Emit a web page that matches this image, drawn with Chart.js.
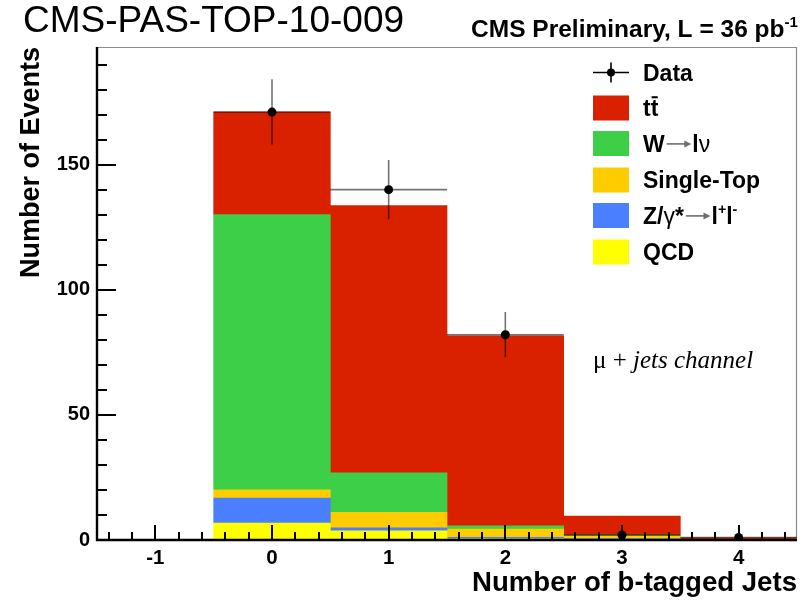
<!DOCTYPE html>
<html>
<head>
<meta charset="utf-8">
<style>
  html, body { margin: 0; padding: 0; background: #ffffff; }
  #wrap { width: 810px; height: 600px; }
</style>
<script src="https://cdn.jsdelivr.net/npm/chart.js@4.4.1/dist/chart.umd.min.js"></script>
</head>
<body>
<div id="wrap"><canvas id="c" width="810" height="600"></canvas></div>
<script>
// Bin centres: number of b-tagged jets
const bins = [-1, 0, 1, 2, 3, 4];

// Stacked expectations per bin (events)
const qcd       = [0, 6.8, 3.7, 0.5, 0.3, 0.05];
const zjets     = [0, 10.0, 1.2, 0.6, 0.3, 0.05];
const singleTop = [0, 3.2, 6.2, 3.3, 1.0, 0.1];
const wjets     = [0, 110.0, 15.7, 1.3, 0.4, 0.05];
const ttbar     = [0, 41.0, 106.8, 75.9, 7.6, 0.6];

// Observed data with statistical errors
const dataBins   = [0, 1, 2, 3, 4];
const dataCounts = [171, 140, 82, 2, 1];
const dataErrors = [13.1, 11.8, 9.1, 1.4, 1.0];

// Axis tick labels
const xTicks = [-1, 0, 1, 2, 3, 4];
const yTicks = [0, 50, 100, 150];

const SANS = '"Liberation Sans", Arial, Helvetica, sans-serif';
const SERIF = '"Liberation Serif", "Times New Roman", serif';

const COLORS = {
  tt: '#d92100',
  w: '#3ccf47',
  st: '#ffcc00',
  z: '#4a80ff',
  qcd: '#ffff00'
};

const toXY = arr => bins.map((b, i) => ({ x: b, y: arr[i] }));

function barSet(label, arr, color) {
  return {
    type: 'bar',
    label: label,
    data: toXY(arr),
    backgroundColor: color,
    borderWidth: 0,
    barPercentage: 1.0,
    categoryPercentage: 1.0,
    stack: 'mc',
    order: 0
  };
}

// Width of one text piece (arrows are drawn as strokes of fixed length)
function pieceWidth(ctx, p, size, weight, family) {
  if (p.arrow) return size * 1.2;
  const s = p.sup ? size * 0.62 : size;
  ctx.font = `${p.light ? 'normal' : weight} ${s}px ${family}`;
  return ctx.measureText(p.t).width;
}

// Draw a run of text pieces; pieces may be superscripts, arrows or carry an overbar
function drawRich(ctx, pieces, x, y, size, weight, family) {
  let cx = x;
  for (const p of pieces) {
    const w = pieceWidth(ctx, p, size, weight, family);
    if (p.arrow) {
      const ay = y - size * 0.33;
      ctx.save();
      ctx.strokeStyle = '#6e6e6e';
      ctx.fillStyle = '#6e6e6e';
      ctx.lineWidth = 1.6;
      ctx.beginPath();
      ctx.moveTo(cx + 2, ay);
      ctx.lineTo(cx + w - 6, ay);
      ctx.stroke();
      ctx.beginPath();
      ctx.moveTo(cx + w - 1, ay);
      ctx.lineTo(cx + w - 8, ay - 3.5);
      ctx.lineTo(cx + w - 8, ay + 3.5);
      ctx.closePath();
      ctx.fill();
      ctx.restore();
    } else {
      const dy = p.sup ? -size * 0.42 : 0;
      ctx.fillText(p.t, cx, y + dy);
      if (p.bar) {
        ctx.fillRect(cx + w * 0.12, y - size * 0.86, w * 0.8, size * 0.09);
      }
    }
    cx += w;
  }
  return cx - x;
}

function richWidth(ctx, pieces, size, weight, family) {
  return pieces.reduce((s, p) => s + pieceWidth(ctx, p, size, weight, family), 0);
}

// Inward-pointing ticks, frame, and data error bars (drawn above the stack, below the markers)
const framePlugin = {
  id: 'frame',
  beforeDatasetDraw(chart, args) {
    if (chart.data.datasets[args.index].type !== 'scatter') return;
    const { ctx, chartArea: a, scales: { x, y } } = chart;
    ctx.save();

    // thin top/right frame
    ctx.strokeStyle = '#8c8c8c';
    ctx.lineWidth = 1.2;
    ctx.beginPath();
    ctx.moveTo(a.left, a.top + 0.5);
    ctx.lineTo(a.right - 0.5, a.top + 0.5);
    ctx.lineTo(a.right - 0.5, a.bottom);
    ctx.stroke();

    // x ticks: major every 1, minor every 0.2
    ctx.strokeStyle = '#000';
    ctx.lineWidth = 2;
    ctx.beginPath();
    for (let k = -7; k <= 22; k++) {
      const px = Math.round(x.getPixelForValue(k / 5));
      const len = (k % 5 === 0) ? 15 : 8;
      ctx.moveTo(px, a.bottom);
      ctx.lineTo(px, a.bottom - len);
    }
    // y ticks: major every 50, minor every 10
    for (let k = 1; k <= 19; k++) {
      const py = Math.round(y.getPixelForValue(k * 10));
      const len = (k % 5 === 0) ? 19 : 10;
      ctx.moveTo(a.left, py);
      ctx.lineTo(a.left + len, py);
    }
    ctx.stroke();

    // axis lines
    ctx.lineWidth = 2.4;
    ctx.beginPath();
    ctx.moveTo(a.left, a.top);
    ctx.lineTo(a.left, a.bottom);
    ctx.lineTo(a.right, a.bottom);
    ctx.stroke();

    // error bars
    ctx.strokeStyle = 'rgba(0,0,0,0.55)';
    ctx.lineWidth = 1.6;
    ctx.beginPath();
    dataBins.forEach((b, i) => {
      const px = x.getPixelForValue(b);
      const py = y.getPixelForValue(dataCounts[i]);
      ctx.moveTo(px, y.getPixelForValue(dataCounts[i] + dataErrors[i]));
      ctx.lineTo(px, y.getPixelForValue(Math.max(0, dataCounts[i] - dataErrors[i])));
      ctx.moveTo(x.getPixelForValue(b - 0.5), py);
      ctx.lineTo(x.getPixelForValue(b + 0.5), py);
    });
    ctx.stroke();
    ctx.restore();
  }
};

// Header texts, legend and channel label
const annotPlugin = {
  id: 'annot',
  afterDraw(chart) {
    const { ctx } = chart;
    ctx.save();
    ctx.fillStyle = '#000';
    ctx.textBaseline = 'alphabetic';
    ctx.textAlign = 'left';

    // document reference
    ctx.font = `37px ${SANS}`;
    ctx.fillText('CMS-PAS-TOP-10-009', 23, 32);

    // luminosity header, right aligned to the frame
    const head = [{ t: 'CMS Preliminary, L = 36 pb' }, { t: '-1', sup: true }];
    const hw = richWidth(ctx, head, 24.5, 'bold', SANS);
    drawRich(ctx, head, 798 - hw, 37, 24.5, 'bold', SANS);

    // legend
    const boxX = 593, boxW = 36, boxH = 25, textX = 643;
    const entries = [
      { cy: 72.5, marker: true, pieces: [{ t: 'Data' }] },
      { cy: 108, color: COLORS.tt, pieces: [{ t: 't' }, { t: 't', bar: true }] },
      { cy: 143.5, color: COLORS.w, pieces: [{ t: 'W' }, { arrow: true }, { t: 'l' }, { t: '\u03bd', light: true }] },
      { cy: 180, color: COLORS.st, pieces: [{ t: 'Single-Top' }] },
      { cy: 215.5, color: COLORS.z, pieces: [{ t: 'Z/' }, { t: '\u03b3', light: true }, { t: '*' }, { arrow: true }, { t: 'l' }, { t: '+', sup: true }, { t: 'l' }, { t: '-', sup: true }] },
      { cy: 252, color: COLORS.qcd, pieces: [{ t: 'QCD' }] }
    ];
    for (const e of entries) {
      if (e.marker) {
        ctx.strokeStyle = '#000';
        ctx.lineWidth = 1.6;
        ctx.beginPath();
        ctx.moveTo(boxX, e.cy); ctx.lineTo(boxX + boxW, e.cy);
        ctx.moveTo(boxX + boxW / 2, e.cy - 10); ctx.lineTo(boxX + boxW / 2, e.cy + 10);
        ctx.stroke();
        ctx.beginPath();
        ctx.arc(boxX + boxW / 2, e.cy, 4, 0, Math.PI * 2);
        ctx.fill();
      } else {
        ctx.fillStyle = e.color;
        ctx.fillRect(boxX, e.cy - boxH / 2, boxW, boxH);
        ctx.fillStyle = '#000';
      }
      drawRich(ctx, e.pieces, textX, e.cy + 8, 23, 'bold', SANS);
    }

    // channel label
    ctx.font = `25px ${SERIF}`;
    ctx.fillText('\u03bc + ', 593, 368);
    const mw = ctx.measureText('\u03bc + ').width;
    ctx.font = `italic 25px ${SERIF}`;
    ctx.fillText('jets channel', 593 + mw, 368);

    ctx.restore();
  }
};

const cfg = {
  data: {
    datasets: [
      barSet('QCD', qcd, COLORS.qcd),
      barSet('Z/\u03b3*\u2192l+l-', zjets, COLORS.z),
      barSet('Single-Top', singleTop, COLORS.st),
      barSet('W\u2192l\u03bd', wjets, COLORS.w),
      barSet('t\u0074\u0304', ttbar, COLORS.tt),
      {
        type: 'scatter',
        label: 'Data',
        data: dataBins.map((b, i) => ({ x: b, y: dataCounts[i] })),
        backgroundColor: '#000',
        borderColor: '#000',
        pointRadius: 4.5,
        pointBorderWidth: 0,
        showLine: false,
        stack: 'data',
        order: -1
      }
    ]
  },
  options: {
    responsive: false,
    animation: false,
    devicePixelRatio: 1,
    layout: { padding: { left: 0, right: 13, top: 47, bottom: 0 } },
    plugins: { legend: { display: false }, tooltip: { enabled: false } },
    scales: {
      x: {
        type: 'linear',
        min: -1.5,
        max: 4.5,
        offset: false,
        stacked: true,
        grid: { display: false, drawTicks: false },
        border: { display: false },
        afterBuildTicks: s => { s.ticks = xTicks.map(v => ({ value: v })); },
        afterFit: s => { s.height = 60; },
        ticks: {
          padding: 6,
          color: '#000',
          autoSkip: false,
          maxRotation: 0,
          font: { family: SANS, size: 20.5, weight: 'bold' },
          callback: v => String(v)
        },
        title: {
          display: true,
          text: 'Number of b-tagged Jets',
          align: 'end',
          color: '#000',
          font: { family: SANS, size: 27.6, weight: 'bold' },
          padding: { top: 0, bottom: 0 }
        }
      },
      y: {
        type: 'linear',
        min: 0,
        max: 197,
        stacked: true,
        grid: { display: false, drawTicks: false },
        border: { display: false },
        afterBuildTicks: s => { s.ticks = yTicks.map(v => ({ value: v })); },
        afterFit: s => { s.width = 97; },
        ticks: {
          padding: 7,
          color: '#000',
          font: { family: SANS, size: 20, weight: 'bold' },
          callback: v => String(v)
        },
        title: {
          display: true,
          text: 'Number of Events',
          align: 'end',
          color: '#000',
          font: { family: SANS, size: 27, weight: 'bold' },
          padding: { top: 15, bottom: 0 }
        }
      }
    }
  },
  plugins: [framePlugin, annotPlugin]
};

new Chart(document.getElementById('c'), cfg);
</script>
</body>
</html>
